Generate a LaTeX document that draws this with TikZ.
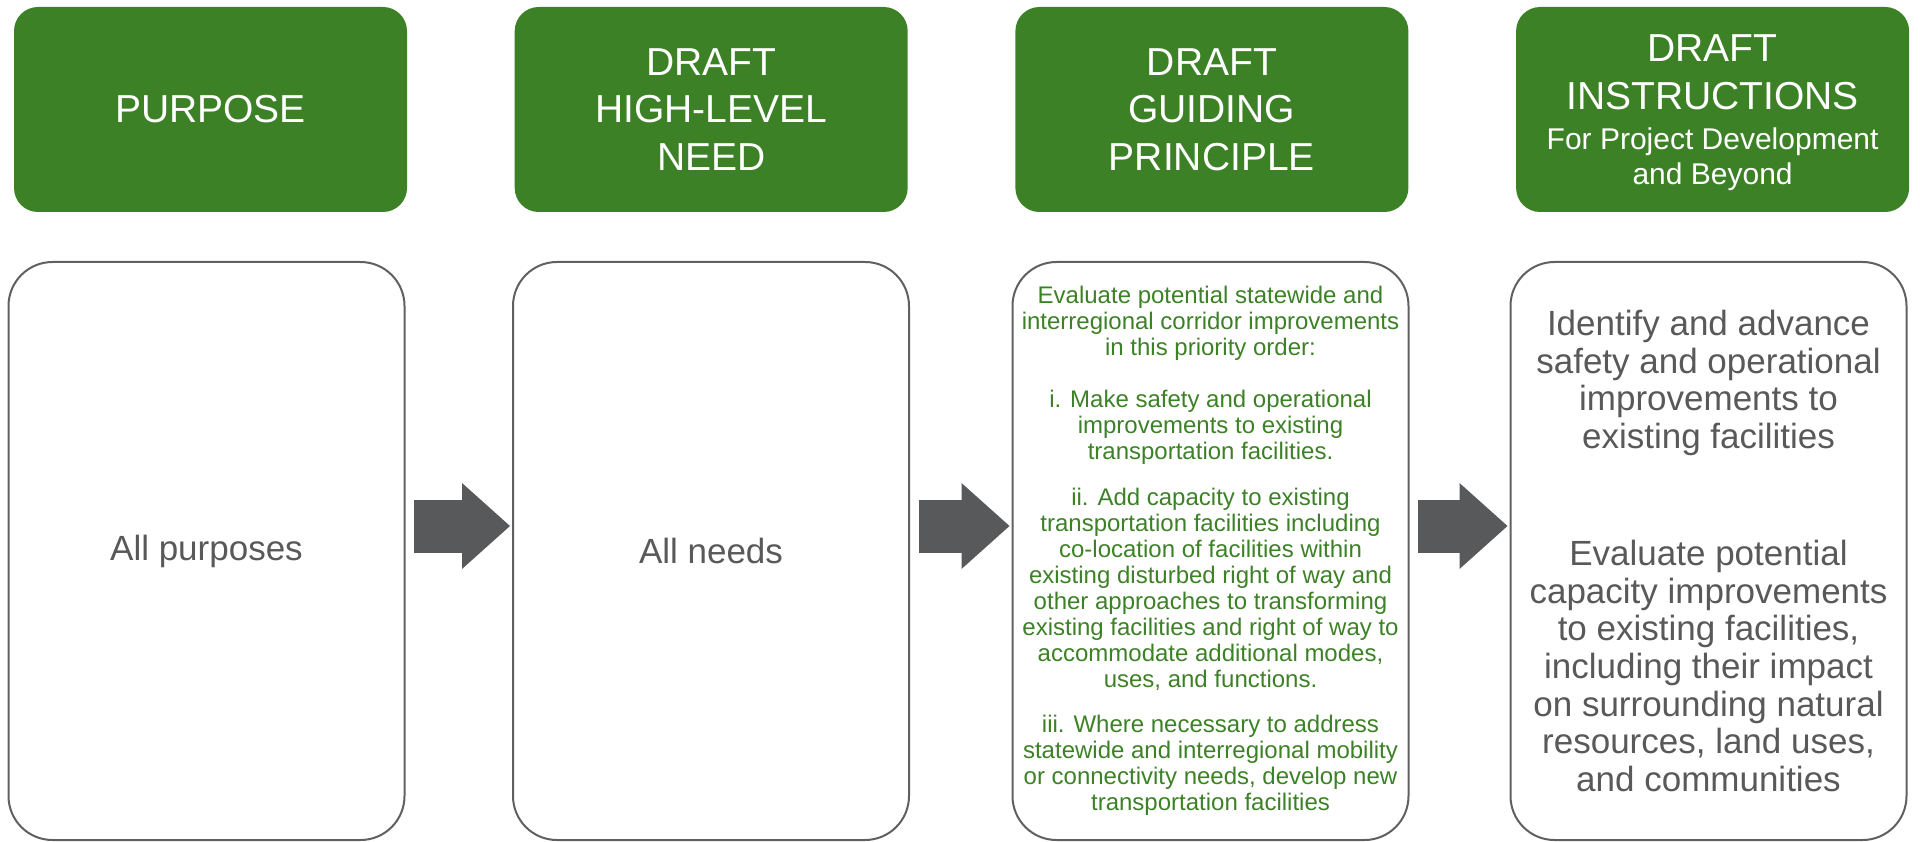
\documentclass[tikz,border=0pt]{standalone}
\usepackage{fontspec}
\setmainfont{Liberation Sans}
\usetikzlibrary{arrows.meta,positioning}

\definecolor{headgreen}{RGB}{61,129,39}
\definecolor{textgray}{RGB}{89,89,89}
\definecolor{framegray}{RGB}{96,96,96}
\definecolor{arrowgray}{RGB}{88,89,91}

\begin{document}
\begin{tikzpicture}[x=1pt,y=1pt,node distance=500.7pt,>={Triangle[width=86pt,length=48pt,line width'=0pt]}]
        \tikzstyle{header}=[rectangle,rounded corners=24pt,fill=headgreen,text=white,minimum width=393pt,minimum height=205pt,inner sep=0pt,align=center,font=\fontsize{39}{47.5}\selectfont]
        \tikzstyle{panel}=[rectangle,rounded corners=44pt,draw=framegray,line width=2pt,minimum width=396pt,minimum height=578pt,inner sep=0pt,align=center,text=textgray,font=\fontsize{35}{37.7}\selectfont]
        \tikzstyle{flow}=[->,draw=arrowgray,line width=53pt,shorten <=8.5pt,shorten >=2pt]

        \useasboundingbox (0,0) rectangle (1920,-842);

        \node [header] (hpurpose) at (210.5,-109.5) {PURPOSE}; %green headers
        \node [header] (hneed) [right of=hpurpose] {DRAFT\\HIGH-LEVEL\\NEED};
        \node [header] (hprinciple) [right of=hneed] {DRAFT\\GUIDING\\PRINCIPLE};
        \node [header,text depth=0pt] (hinstr) [right of=hprinciple] {DRAFT\\INSTRUCTIONS\\[-7.5pt]{\fontsize{30}{35}\selectfont For Project Development}\\[-12.5pt]{\fontsize{30}{35}\selectfont and Beyond}};

        \node [panel] (bpurpose) [node distance=441.5pt,below of=hpurpose,xshift=-4pt] {All purposes}; %framed panels
        \node [panel] (bneed) [node distance=504.5pt,right of=bpurpose] {All needs};
        \node [panel,text=headgreen,font=\fontsize{24}{26}\selectfont] (bprinciple) [node distance=499.5pt,right of=bneed] {Evaluate potential statewide and\\interregional corridor improvements\\in this priority order:\\[25.7pt]i. Make safety and operational\\improvements to existing\\transportation facilities.\\[19.6pt]ii. Add capacity to existing\\transportation facilities including\\co-location of facilities within\\existing disturbed right of way and\\other approaches to transforming\\existing facilities and right of way to\\accommodate additional modes,\\uses, and functions.\\[19.4pt]iii. Where necessary to address\\statewide and interregional mobility\\or connectivity needs, develop new\\transportation facilities};
        \node [panel] (binstr) [node distance=498pt,right of=bprinciple] {Identify and advance\\safety and operational\\improvements to\\existing facilities\\[79pt]Evaluate potential\\capacity improvements\\to existing facilities,\\including their impact\\on surrounding natural\\resources, land uses,\\and communities};

        \draw [flow] ([yshift=25pt]bpurpose.east) -- ([yshift=25pt]bneed.west); %block arrows
        \draw [flow] ([yshift=25pt]bneed.east) -- ([yshift=25pt]bprinciple.west);
        \draw [flow] ([yshift=25pt]bprinciple.east) -- ([yshift=25pt]binstr.west);
\end{tikzpicture}
\end{document}
